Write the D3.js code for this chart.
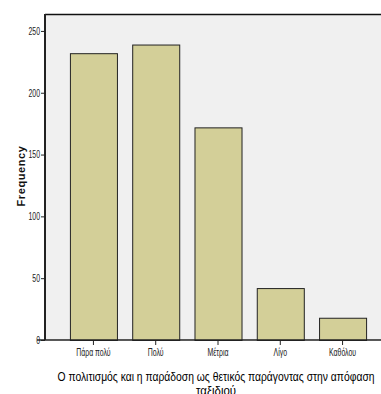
<!DOCTYPE html>
<html><head><meta charset="utf-8">
<script src="https://d3js.org/d3.v7.min.js"></script>
<style>body{margin:0;background:#fff}svg{display:block}</style>
</head><body>
<script>
const categories = ["Πάρα πολύ", "Πολύ", "Μέτρια", "Λίγο", "Καθόλου"];
const frequencies = [232, 239, 172, 42, 18];
const yTicks = [0, 50, 100, 150, 200, 250];
const xTitle = ["Ο πολιτισμός και η παράδοση ως θετικός παράγοντας στην απόφαση", "ταξιδιού"];
const yTitle = "Frequency";

(function () {
const W = 381, H = 394;
const mLeft = 45, mTop = 14, mBottom = 340;
const font = "Arial,'Liberation Sans',sans-serif";
const sx = 0.66;

const svg = d3.select("body").append("svg").attr("width", W).attr("height", H);

const y = d3.scaleLinear().domain([0, 263.7]).range([mBottom, mTop]);
const x = d3.scaleBand().domain(categories).range([mLeft, 391]).paddingInner(0.245).paddingOuter(0.4);

svg.append("rect").attr("x", mLeft).attr("y", mTop).attr("width", W - mLeft).attr("height", mBottom - mTop).attr("fill", "#f0f0f0");
svg.append("line").attr("x1", mLeft).attr("x2", W).attr("y1", mTop + 0.5).attr("y2", mTop + 0.5).attr("stroke", "#111").attr("stroke-width", 1.5);

svg.selectAll("rect.bar").data(frequencies).enter().append("rect")
  .attr("class", "bar")
  .attr("x", (d, i) => x(categories[i]) + 0.5)
  .attr("y", d => y(d) + 0.5)
  .attr("width", x.bandwidth())
  .attr("height", d => mBottom - y(d))
  .attr("fill", "#d3cf98")
  .attr("stroke", "#222")
  .attr("stroke-width", 1);

const ya = svg.append("g").attr("transform", `translate(${mLeft},0)`)
  .call(d3.axisLeft(y).tickValues(yTicks).tickSize(4).tickSizeOuter(0).tickPadding(1));
ya.select(".domain").attr("stroke", "#222").attr("stroke-width", 2).attr("d", `M0,${mTop}V${mBottom}`);
ya.selectAll("text").attr("font-family", font).attr("font-size", 10.5).attr("fill", "#222")
  .attr("x", -5 / sx).attr("transform", `scale(${sx},1)`);
ya.selectAll(".tick line").attr("stroke", "#222");

const xa = svg.append("g").attr("transform", `translate(0,${mBottom})`)
  .call(d3.axisBottom(x).tickSize(5).tickSizeOuter(0).tickPadding(4));
xa.select(".domain").attr("stroke", "#222").attr("stroke-width", 1.5).attr("d", `M${mLeft - 8},0H${W}`);
xa.selectAll("text").attr("font-family", font).attr("font-size", 10.5).attr("fill", "#222")
  .attr("transform", `scale(${sx},1)`);
xa.selectAll(".tick line").attr("stroke", "#222");

svg.append("text").attr("x", 216).attr("y", 381).attr("text-anchor", "middle")
  .attr("font-family", font).attr("font-size", 12).attr("fill", "#000")
  .attr("textLength", 317).attr("lengthAdjust", "spacingAndGlyphs")
  .text(xTitle[0]);
svg.append("text").attr("x", 216).attr("y", 395).attr("text-anchor", "middle")
  .attr("font-family", font).attr("font-size", 12).attr("fill", "#000")
  .attr("textLength", 40).attr("lengthAdjust", "spacingAndGlyphs")
  .text(xTitle[1]);

svg.append("text").attr("transform", `translate(25,176) rotate(-90)`).attr("text-anchor", "middle")
  .attr("font-family", font).attr("font-size", 11).attr("font-weight", "bold")
  .attr("letter-spacing", 0.6).attr("fill", "#111")
  .text(yTitle);
})();
</script>
</body></html>
